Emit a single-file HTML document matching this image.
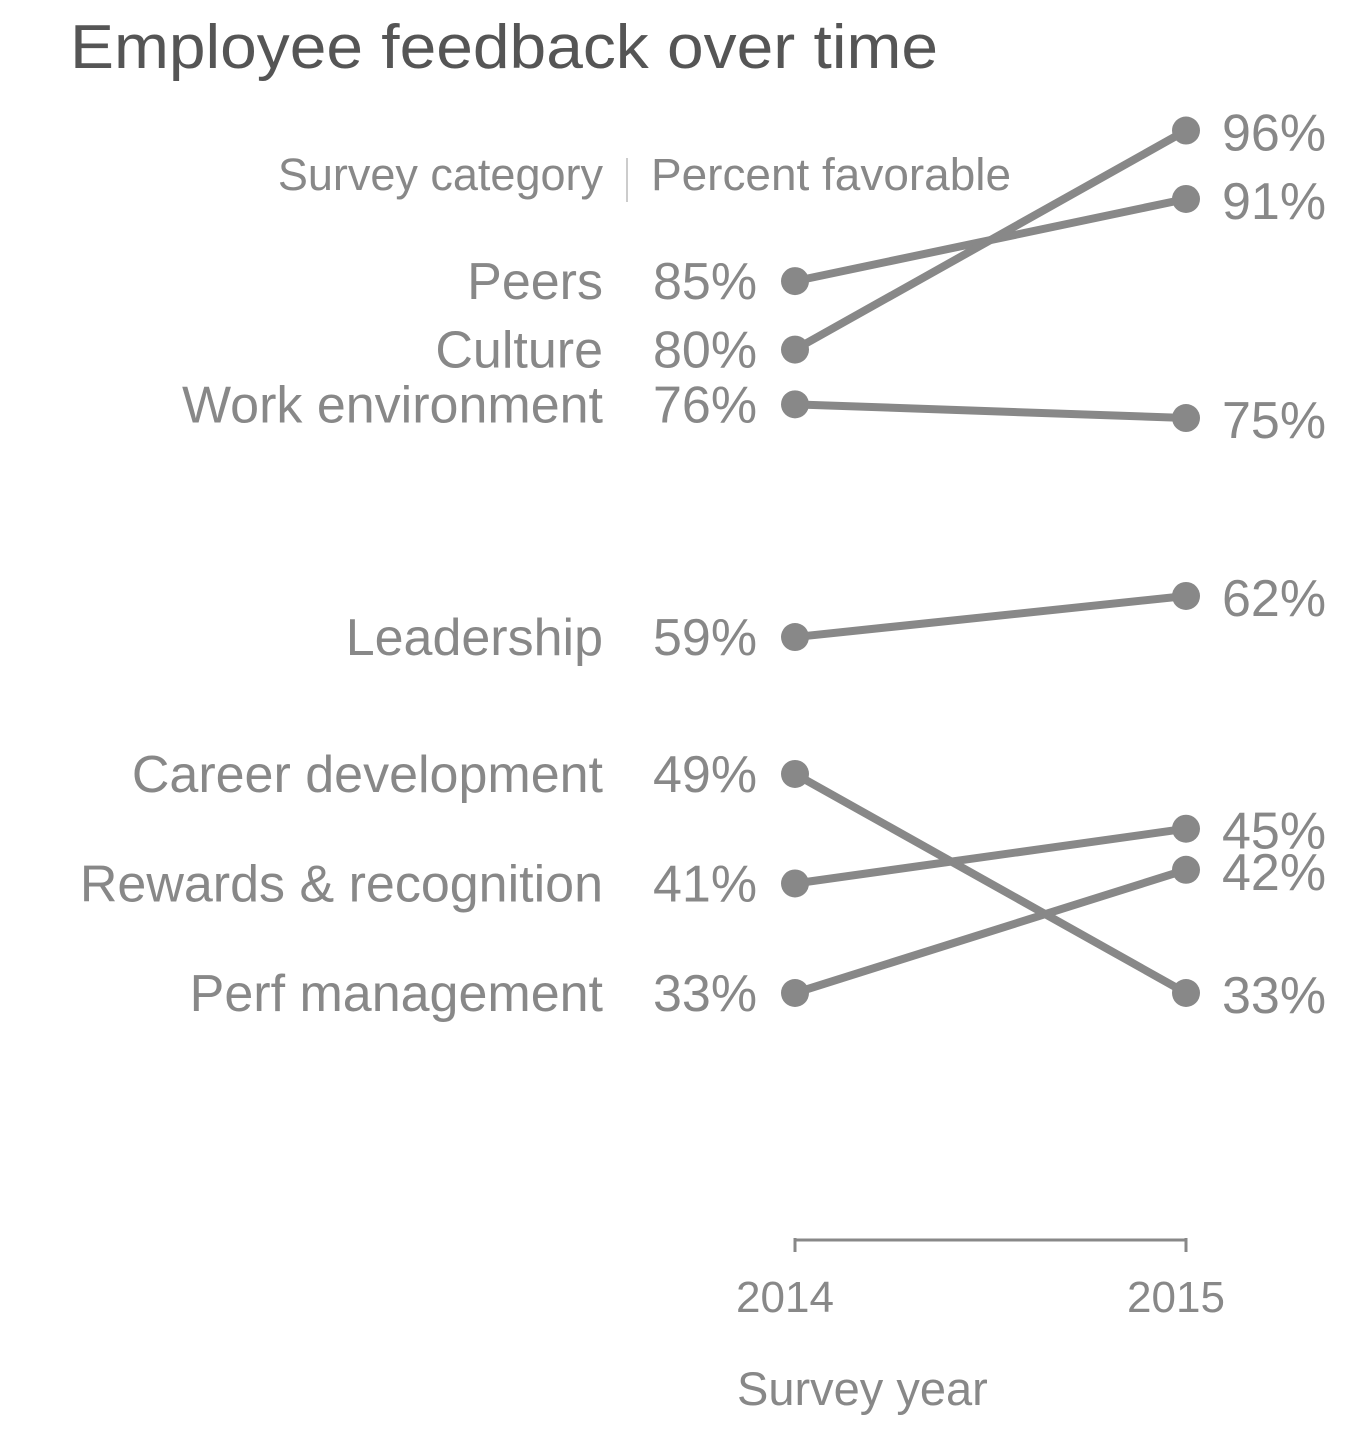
<!DOCTYPE html>
<html><head><meta charset="utf-8"><style>
html,body{margin:0;padding:0;background:#fff;}
svg{display:block;font-family:"Liberation Sans",sans-serif;}
</style></head><body>
<svg id="chart" width="1360" height="1434" viewBox="0 0 1360 1434">
<text x="70" y="68" font-size="62" fill="#555" textLength="868" lengthAdjust="spacingAndGlyphs">Employee feedback over time</text>
<text x="603" y="190" font-size="45" fill="#888" text-anchor="end">Survey category</text>
<line x1="627" y1="158" x2="627" y2="202" stroke="#ccc" stroke-width="2"/>
<text x="651" y="190" font-size="45" fill="#888" textLength="360" lengthAdjust="spacingAndGlyphs">Percent favorable</text>
<g id="marks"></g>
<line x1="795" y1="1240" x2="1186" y2="1240" stroke="#888" stroke-width="3"/>
<line x1="795" y1="1238" x2="795" y2="1252" stroke="#888" stroke-width="3"/>
<line x1="1186" y1="1238" x2="1186" y2="1252" stroke="#888" stroke-width="3"/>
<text x="785" y="1312" font-size="44" fill="#888" text-anchor="middle">2014</text>
<text x="1176" y="1312" font-size="44" fill="#888" text-anchor="middle">2015</text>
<text x="737" y="1405" font-size="47" fill="#888">Survey year</text>
</svg>
<script>
const categories = ["Peers","Culture","Work environment","Leadership","Career development","Rewards & recognition","Perf management"];
const values2014 = [85,80,76,59,49,41,33];
const values2015 = [91,96,75,62,33,45,42];
const NS="http://www.w3.org/2000/svg";
const x2014=795, x2015=1186;
function y(v){return 993-(v-33)*13.69;}
const g=document.getElementById('marks');
function mk(tag,attrs){const e=document.createElementNS(NS,tag);for(const k in attrs)e.setAttribute(k,attrs[k]);g.appendChild(e);return e;}
categories.forEach((c,i)=>{
  const a=values2014[i], b=values2015[i];
  const ln=mk('line',{x1:x2014,y1:y(a),x2:x2015,y2:y(b),stroke:'#888','stroke-width':8});
  
  
  const d1=mk('circle',{cx:x2014,cy:y(a),r:14,fill:'#888'});
  
  
  const d2=mk('circle',{cx:x2015,cy:y(b),r:14,fill:'#888'});
  
  
  const t=mk('text',{x:603,y:y(a)+18,'font-size':52,fill:'#888','text-anchor':'end'});
  t.textContent=c;
  
  
  const v1=mk('text',{x:653,y:y(a)+18,'font-size':52,fill:'#888'});
  v1.textContent=a+'%';
  
  
  const v2=mk('text',{x:1222,y:y(b)+20,'font-size':52,fill:'#888'});
  v2.textContent=b+'%';
  
  
});
</script>
</body></html>
